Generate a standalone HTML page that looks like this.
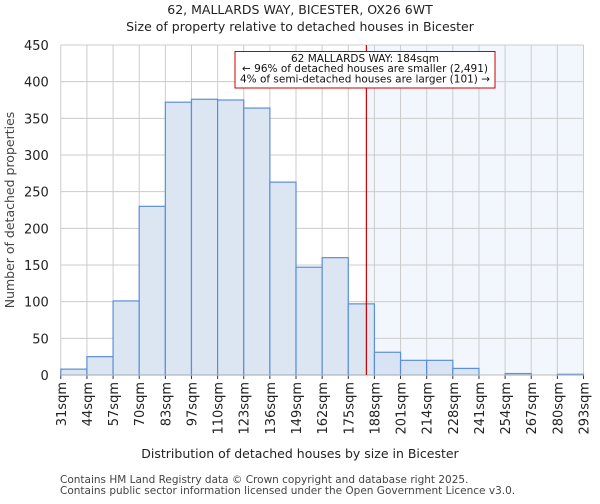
<!DOCTYPE html>
<html><head><meta charset="utf-8"><style>
body{margin:0;background:#fff;font-family:"DejaVu Sans","Liberation Sans",sans-serif;}
svg text{font-family:"DejaVu Sans","Liberation Sans",sans-serif;}
</style></head><body>
<svg id="chart" width="600" height="500">
<text x="300" y="14" text-anchor="middle" font-size="12.5" fill="#222">62, MALLARDS WAY, BICESTER, OX26 6WT</text>
<text x="300" y="31" text-anchor="middle" font-size="12.5" fill="#222">Size of property relative to detached houses in Bicester</text>
<g id="plot"></g>
<text x="300" y="458" text-anchor="middle" font-size="12.5" fill="#222">Distribution of detached houses by size in Bicester</text>
<text transform="translate(14,210) rotate(-90)" text-anchor="middle" font-size="12.5" fill="#444">Number of detached properties</text>
<text x="60" y="483" font-size="10.5" fill="#444">Contains HM Land Registry data © Crown copyright and database right 2025.</text>
<text x="60" y="494" font-size="10.5" fill="#444">Contains public sector information licensed under the Open Government Licence v3.0.</text>
</svg>
<script>
const binLabels=["31sqm","44sqm","57sqm","70sqm","83sqm","97sqm","110sqm","123sqm","136sqm","149sqm","162sqm","175sqm","188sqm","201sqm","214sqm","228sqm","241sqm","254sqm","267sqm","280sqm","293sqm"];
const counts=[8,25,101,230,372,376,375,364,263,147,160,97,31,20,20,9,0,2,0,1];
const yTicks=[0,50,100,150,200,250,300,350,400,450];
const markerBin=11+9/13;
const NS="http://www.w3.org/2000/svg";
const L=60.8,R=583.5,T=45,B=375,yMax=450;
const bw=(R-L)/counts.length;
const xs=i=>L+i*bw;
const ys=v=>B-(v/yMax)*(B-T);
const g=document.getElementById('plot');
function mk(t,a){const e=document.createElementNS(NS,t);for(const k in a)e.setAttribute(k,a[k]);g.appendChild(e);return e;}
const mx=xs(markerBin);
let e=mk('rect',{x:mx,y:T,width:R-mx,height:B-T,fill:'#f2f6fd'});


yTicks.forEach(v=>{
 let l=mk('line',{x1:L,x2:R,y1:ys(v),y2:ys(v),stroke:'#ccc','stroke-width':1});
 
 
 let t=mk('text',{x:L-12,y:ys(v)+5,'text-anchor':'end','font-size':'13',fill:'#222'});
 t.textContent=v;
 
 
});
binLabels.forEach((s,i)=>{
 let l=mk('line',{x1:xs(i),x2:xs(i),y1:T,y2:B,stroke:'#ccc','stroke-width':1});
 
 
 let tk=mk('line',{x1:xs(i),x2:xs(i),y1:B,y2:B+4,stroke:'#333','stroke-width':1});
 
 
 let t=mk('text',{transform:`translate(${xs(i)+5},${B+7}) rotate(-90)`,'text-anchor':'end','font-size':'13',fill:'#222'});
 t.textContent=s;
 
 
});
counts.forEach((v,i)=>{
 if(v<=0)return;
 let r=mk('rect',{x:xs(i),y:ys(v),width:bw,height:B-ys(v),fill:i>=12?'#d8e3f4':'#dce6f3',stroke:'#5b8fd6','stroke-width':1.2});
 
 
});
let ax=mk('line',{x1:L,x2:R,y1:B,y2:B,stroke:'#bbb','stroke-width':1});


let ml=mk('line',{x1:mx,x2:mx,y1:T,y2:B,stroke:'#c00','stroke-width':1.2});


let box=mk('rect',{x:235,y:51.5,width:260,height:36.5,fill:'#fff',stroke:'#c00','stroke-width':1});


const annW=[148,246,250];
["62 MALLARDS WAY: 184sqm","← 96% of detached houses are smaller (2,491)","4% of semi-detached houses are larger (101) →"].forEach((s,i)=>{
 let t=mk('text',{x:365,y:62+i*10.2,'text-anchor':'middle','font-size':'10.5',fill:'#111',textLength:annW[i],lengthAdjust:'spacingAndGlyphs'});
 t.textContent=s;
 
 
});
</script>
</body></html>
